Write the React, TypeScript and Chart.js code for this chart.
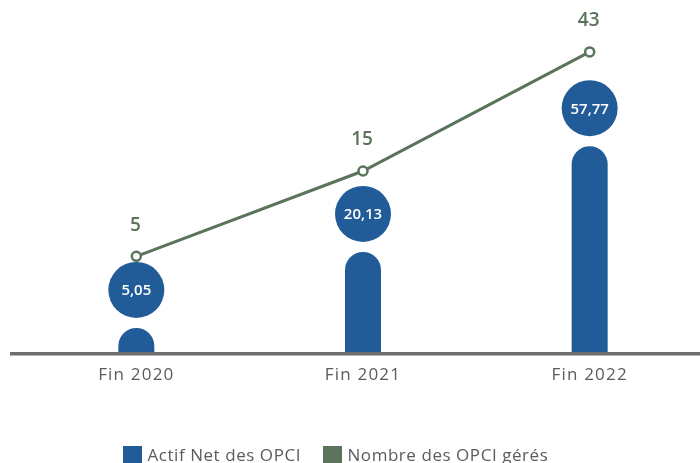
import React, { useEffect, useRef } from "react";
import { Chart, registerables, LinearScale } from "chart.js";

// ---- Data ----
const categories: string[] = ["Fin 2020", "Fin 2021", "Fin 2022"];
const actifNet: number[] = [5.05, 20.13, 57.77];
const nombreOpci: number[] = [5, 15, 43];
const actifLabels: string[] = ["5,05", "20,13", "57,77"];
const nombreLabels: string[] = ["5", "15", "43"];
const seriesNames: string[] = ["Actif Net des OPCI", "Nombre des OPCI gérés"];
const seriesColors: string[] = ["#215c98", "#5b735b"];

// ---- Power scale (non-linear, like the infographic) ----
class PowScale extends LinearScale {
  static id = "pow";
  static defaults = (LinearScale as any).defaults;
  _exp(): number {
    const e = (this.options as any).exponent;
    return typeof e === "number" ? e : 0.5;
  }
  _f(v: number): number {
    return Math.pow(Math.max(v, 0), this._exp());
  }
  getPixelForValue(value: number): number {
    if (value === null || value === undefined) return NaN;
    const a = this._f(this.min);
    const b = this._f(this.max);
    return this.getPixelForDecimal((this._f(value) - a) / (b - a));
  }
  getValueForPixel(pixel: number): number {
    const a = this._f(this.min);
    const b = this._f(this.max);
    const d = this.getDecimalForPixel(pixel);
    return Math.pow(Math.max(a + d * (b - a), 0), 1 / this._exp());
  }
}

Chart.register(...registerables, PowScale as any);

const FONT = "'Open Sans', sans-serif";
const CANVAS_W = 710;
const VIEW_W = 700;

const infographicPlugin = {
  id: "infographic",
  beforeDraw(chart: any) {
    chart.ctx.letterSpacing = "1.2px";
  },
  beforeDatasetDraw(chart: any, args: any) {
    if (args.index !== 0) return true;
    const ctx = chart.ctx;
    const meta = chart.getDatasetMeta(0);
    const bottom = chart.chartArea.bottom;
    ctx.save();
    ctx.fillStyle = seriesColors[0];
    meta.data.forEach((el: any) => {
      const w = el.width;
      const r = w / 2;
      const left = el.x - r;
      const top = el.y;
      const base = Math.min(el.base, bottom);
      ctx.beginPath();
      ctx.moveTo(left, base);
      ctx.lineTo(left, top + r);
      ctx.arc(el.x, top + r, r, Math.PI, 0);
      ctx.lineTo(left + w, base);
      ctx.closePath();
      ctx.fill();
    });
    ctx.restore();
    return false;
  },
  afterDatasetsDraw(chart: any) {
    const ctx = chart.ctx;
    const { chartArea } = chart;
    ctx.save();
    ctx.letterSpacing = "0px";
    // axis line
    ctx.fillStyle = "#6d6e70";
    ctx.fillRect(10, chartArea.bottom, chart.width - 10, 3.5);
    // circles with values
    const barMeta = chart.getDatasetMeta(0);
    barMeta.data.forEach((el: any, i: number) => {
      const cy = el.y - 38;
      ctx.beginPath();
      ctx.arc(el.x, cy, 28, 0, Math.PI * 2);
      ctx.fillStyle = seriesColors[0];
      ctx.fill();
      ctx.fillStyle = "#ffffff";
      ctx.font = `600 15px ${FONT}`;
      ctx.textAlign = "center";
      ctx.textBaseline = "middle";
      ctx.fillText(actifLabels[i], el.x, cy + 1);
    });
    // line labels
    const lineMeta = chart.getDatasetMeta(1);
    lineMeta.data.forEach((el: any, i: number) => {
      ctx.fillStyle = seriesColors[1];
      ctx.font = `600 19px ${FONT}`;
      ctx.textAlign = "center";
      ctx.textBaseline = "middle";
      ctx.fillText(nombreLabels[i], el.x - 1, el.y - 31);
    });
    ctx.restore();
  },
};

export default function App() {
  const ref = useRef<HTMLCanvasElement | null>(null);
  useEffect(() => {
    if (!ref.current) return;
    const chart = new Chart(ref.current, {
      type: "bar",
      data: {
        labels: categories,
        datasets: [
          {
            type: "bar",
            label: seriesNames[0],
            data: actifNet,
            backgroundColor: seriesColors[0],
            barThickness: 36,
            yAxisID: "y",
            order: 2,
          },
          {
            type: "line",
            label: seriesNames[1],
            data: nombreOpci,
            borderColor: seriesColors[1],
            borderWidth: 3,
            pointRadius: 4.5,
            pointBackgroundColor: "#ffffff",
            pointBorderColor: seriesColors[1],
            pointBorderWidth: 2.5,
            tension: 0,
            yAxisID: "y1",
            order: 1,
            clip: false as any,
          } as any,
        ],
      },
      options: {
        responsive: false,
        animation: false,
        layout: { padding: { left: 23, right: 5, top: 10, bottom: 0 } },
        plugins: {
          legend: { display: false },
          tooltip: { enabled: false },
        },
        scales: {
          x: {
            grid: { display: false, drawTicks: false },
            border: { display: false },
            ticks: {
              color: "#5b5b5d",
              font: { family: FONT, size: 17 },
              padding: 13,
            },
            afterFit: (scale: any) => {
              scale.height = 111;
            },
          },
          y: {
            type: "pow" as any,
            exponent: 0.5,
            min: 2.366,
            max: 134.9,
            display: false,
          } as any,
          y1: {
            type: "pow" as any,
            exponent: 0.35,
            min: 0.593,
            max: 57.7,
            display: false,
          } as any,
        },
      } as any,
      plugins: [infographicPlugin],
    });
    return () => chart.destroy();
  }, []);

  const legendItemStyle = (left: number): React.CSSProperties => ({
    position: "absolute",
    left,
    top: 446,
    height: 18,
    display: "flex",
    alignItems: "center",
    whiteSpace: "nowrap",
  });

  return (
    <div
      style={{
        position: "absolute",
        left: 0,
        top: 0,
        width: VIEW_W,
        height: 463,
        overflow: "hidden",
        background: "#ffffff",
      }}
    >
      <canvas ref={ref} width={CANVAS_W} height={463} style={{ display: "block" }} />
      {seriesNames.map((name, i) => (
        <div key={name} style={legendItemStyle(i === 0 ? 123 : 323)}>
          <span
            style={{
              display: "inline-block",
              width: 18.5,
              height: 18,
              background: seriesColors[i],
              marginRight: 6,
            }}
          />
          <span
            style={{
              fontFamily: FONT,
              fontSize: 17,
              color: "#5b5b5d",
              letterSpacing: "0.55px",
              lineHeight: "18px",
            }}
          >
            {name}
          </span>
        </div>
      ))}
    </div>
  );
}
